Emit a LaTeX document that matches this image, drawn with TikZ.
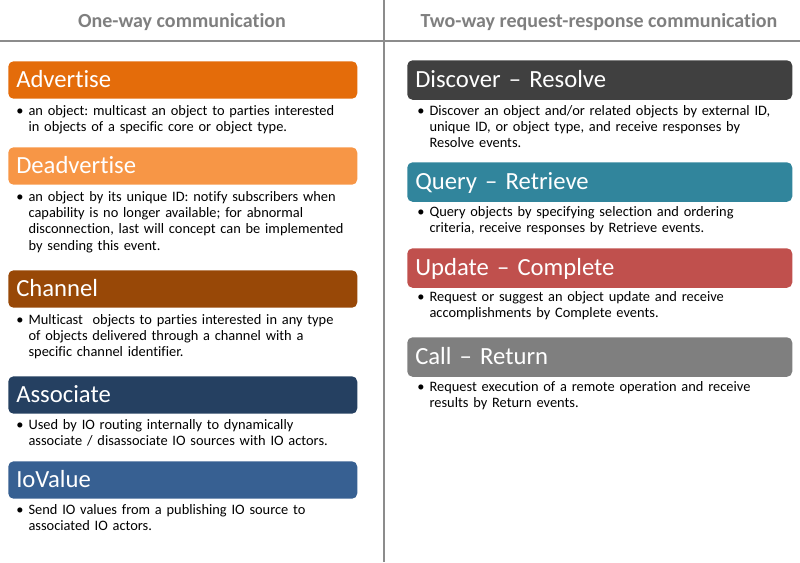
\documentclass[tikz,border=0pt]{standalone}
\usepackage{fontspec}
\setmainfont{Carlito}[Ligatures={TeX,NoCommon}]

\definecolor{headC}{HTML}{7F7F7F}
\definecolor{lineC}{HTML}{8C8C8C}
\definecolor{advC}{HTML}{E46C0A}
\definecolor{deadvC}{HTML}{F79646}
\definecolor{chanC}{HTML}{984807}
\definecolor{assocC}{HTML}{254061}
\definecolor{ioC}{HTML}{376092}
\definecolor{discC}{HTML}{404040}
\definecolor{queryC}{HTML}{31859C}
\definecolor{updC}{HTML}{C0504D}
\definecolor{callC}{HTML}{7F7F7F}

\newcommand{\bitem}{\llap{\textbullet\hspace{3.7pt}}}
\frenchspacing

\begin{document}
\begin{tikzpicture}[
    x=0.75pt, y=-0.75pt,
    title/.style={anchor=base, inner sep=0pt, text=headC,
        font=\bfseries\fontsize{15pt}{17pt}\selectfont},
    evbox/.style={anchor=north west, rounded corners=4pt, inner xsep=6pt,
        inner ysep=0pt, align=left, text=white,
        font=\fontsize{18.5pt}{22pt}\selectfont},
    leftbox/.style={evbox, text width=249.75pt, text height=19.5pt, text depth=8.6pt},
    rightbox/.style={evbox, text width=276.75pt, text height=20.25pt, text depth=9.4pt},
    desc/.style={anchor=base west, inner sep=0pt, text width=280pt, align=left,
        font=\fontsize{10.8pt}{12.1pt}\selectfont},
    rule/.style={draw=lineC, line width=1.5pt}
]
\useasboundingbox (0,0) rectangle (800,562);

% Column rules
\draw[rule] (0,41) -- (800,41);
\draw[rule] (384,0) -- (384,562);

% Column headings
\node[title] (oneway) at (182,27.7) {One-way communication};
\node[title] (twoway) at (599,27.7) {Two-way request-response communication};

% One-way events
\node[leftbox, fill=advC]   (adv)   at (8,61)  {Advertise};
\node[desc] (advTxt) at (28.3,115) {\bitem an object: multicast an object to parties interested\\
    in objects of a specific core or object type.};

\node[leftbox, fill=deadvC] (deadv) at (8,147) {Deadvertise};
\node[desc] (deadvTxt) at (28.3,201.7) {\bitem an object by its unique ID: notify subscribers when\\
    capability is no longer available; for abnormal\\
    disconnection, last will concept can be implemented\\
    by sending this event.};

\node[leftbox, fill=chanC]  (chan)  at (8,270) {Channel};
\node[desc] (chanTxt) at (28.3,324.3) {\bitem Multicast~ objects to parties interested in any type\\
    of objects delivered through a channel with a\\
    specific channel identifier.};

\node[leftbox, fill=assocC] (assoc) at (8,376) {Associate};
\node[desc] (assocTxt) at (28.3,429.3) {\bitem Used by IO routing internally to dynamically\\
    associate / disassociate IO sources with IO actors.};

\node[leftbox, fill=ioC]    (iov)   at (8,461) {IoValue};
\node[desc] (iovTxt) at (28.3,514.3) {\bitem Send IO values from a publishing IO source to\\
    associated IO actors.};

% Two-way events
\node[rightbox, fill=discC]  (disc)  at (407,60)  {Discover – Resolve};
\node[desc] (discTxt) at (429.3,115) {\bitem Discover an object and/or related objects by external ID,\\
    unique ID, or object type, and receive responses by\\
    Resolve events.};

\node[rightbox, fill=queryC] (query) at (407,162) {Query – Retrieve};
\node[desc] (queryTxt) at (429.3,216) {\bitem Query objects by specifying selection and ordering\\
    criteria, receive responses by Retrieve events.};

\node[rightbox, fill=updC]   (upd)   at (407,248) {Update – Complete};
\node[desc] (updTxt) at (429.3,301.7) {\bitem Request or suggest an object update and receive\\
    accomplishments by Complete events.};

\node[rightbox, fill=callC]  (call)  at (407,337) {Call – Return};
\node[desc] (callTxt) at (429.3,391) {\bitem Request execution of a remote operation and receive\\
    results by Return events.};

\end{tikzpicture}
\end{document}
